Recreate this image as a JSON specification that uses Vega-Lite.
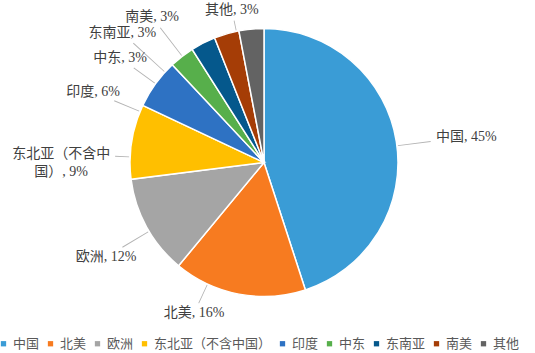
{
  "$schema": "https://vega.github.io/schema/vega-lite/v6.json",
  "width": 528,
  "height": 325,
  "autosize": {"type": "none"},
  "padding": {"left": 0, "top": 0, "right": 7, "bottom": 28},
  "background": "white",
  "config": {"view": {"stroke": null}},
  "data": {
    "values": [
      {"region": "中国", "value": 45, "k": 1},
      {"region": "北美", "value": 16, "k": 2},
      {"region": "欧洲", "value": 12, "k": 3},
      {"region": "东北亚（不含中国）", "value": 9, "k": 4},
      {"region": "印度", "value": 6, "k": 5},
      {"region": "中东", "value": 3, "k": 6},
      {"region": "东南亚", "value": 3, "k": 7},
      {"region": "南美", "value": 3, "k": 8},
      {"region": "其他", "value": 3, "k": 9}
    ]
  },
  "transform": [
    {"calculate": "replace(datum.region + ', ' + datum.value + '%', '含中', '含中\\n')", "as": "label"},
    {"calculate": "datum.k == 1 ? 82.8 : datum.k == 2 ? 204.9 : datum.k == 3 ? 239.1 : datum.k == 4 ? 272.4 : datum.k == 5 ? 292.4 : datum.k == 6 ? 306 : datum.k == 7 ? 312.4 : datum.k == 8 ? 322.4 : 348.1", "as": "la"},
    {"calculate": "datum.k == 1 ? 204 : datum.k == 2 ? 166 : datum.k == 3 ? 184 : datum.k == 4 ? 203 : datum.k == 5 ? 185 : datum.k == 6 ? 178 : datum.k == 7 ? 192 : datum.k == 8 ? 183.6 : 155.8", "as": "lr"},
    {"calculate": "datum.k == 1 ? 168 : datum.k == 2 ? 155 : datum.k == 3 ? 165 : datum.k == 4 ? 149 : datum.k == 5 ? 162 : datum.k == 6 ? 161 : datum.k == 7 ? 177 : datum.k == 8 ? 170 : 145", "as": "le"},
    {"calculate": "datum.la - 0.17", "as": "a1"},
    {"calculate": "datum.la + 0.17", "as": "a2"},
    {"calculate": "135", "as": "r0"}
  ],
  "layer": [
    {
      "mark": {"type": "arc", "outerRadius": 134, "stroke": "white", "strokeWidth": 1.5},
      "encoding": {
        "theta": {"field": "value", "type": "quantitative", "stack": true},
        "order": {"field": "k", "type": "quantitative"},
        "color": {
          "field": "region",
          "type": "nominal",
          "scale": {
            "domain": ["中国", "北美", "欧洲", "东北亚（不含中国）", "印度", "中东", "东南亚", "南美", "其他"],
            "range": ["#3A9CD6", "#F77B20", "#A5A5A5", "#FFBF00", "#2E72C3", "#57AF4B", "#05588C", "#A53D06", "#636363"]
          },
          "legend": {
            "orient": "none",
            "legendX": -3,
            "legendY": 337,
            "padding": 0,
            "direction": "horizontal",
            "title": null,
            "symbolType": "square",
            "symbolSize": 28,
            "symbolStrokeWidth": 0,
            "labelFont": "Noto Sans CJK SC",
            "labelFontSize": 13,
            "labelColor": "#595959",
            "labelOffset": 3,
            "columnPadding": 4,
            "labelLimit": 300
          }
        }
      }
    },
    {
      "mark": {"type": "arc", "color": "#B4B4B4"},
      "encoding": {
        "theta": {"field": "a1", "type": "quantitative", "stack": null, "scale": {"domain": [0, 360], "range": [0, 6.283185307]}},
        "theta2": {"field": "a2"},
        "radius": {"field": "r0", "type": "quantitative", "scale": {"type": "linear", "domain": [0, 300], "range": [0, 300], "zero": true}},
        "radius2": {"field": "le"}
      }
    },
    {
      "mark": {
        "type": "text",
        "font": "Liberation Serif, Noto Sans CJK SC",
        "fontSize": 14,
        "color": "#404040",
        "align": "center",
        "baseline": "middle",
        "lineBreak": "\n",
        "lineHeight": 18
      },
      "encoding": {
        "theta": {"field": "la", "type": "quantitative", "stack": null, "scale": {"domain": [0, 360], "range": [0, 6.283185307]}},
        "radius": {"field": "lr", "type": "quantitative", "scale": {"type": "linear", "domain": [0, 300], "range": [0, 300], "zero": true}},
        "text": {"field": "label", "type": "nominal"}
      }
    }
  ],
  "resolve": {"scale": {"theta": "independent", "radius": "independent"}}
}
